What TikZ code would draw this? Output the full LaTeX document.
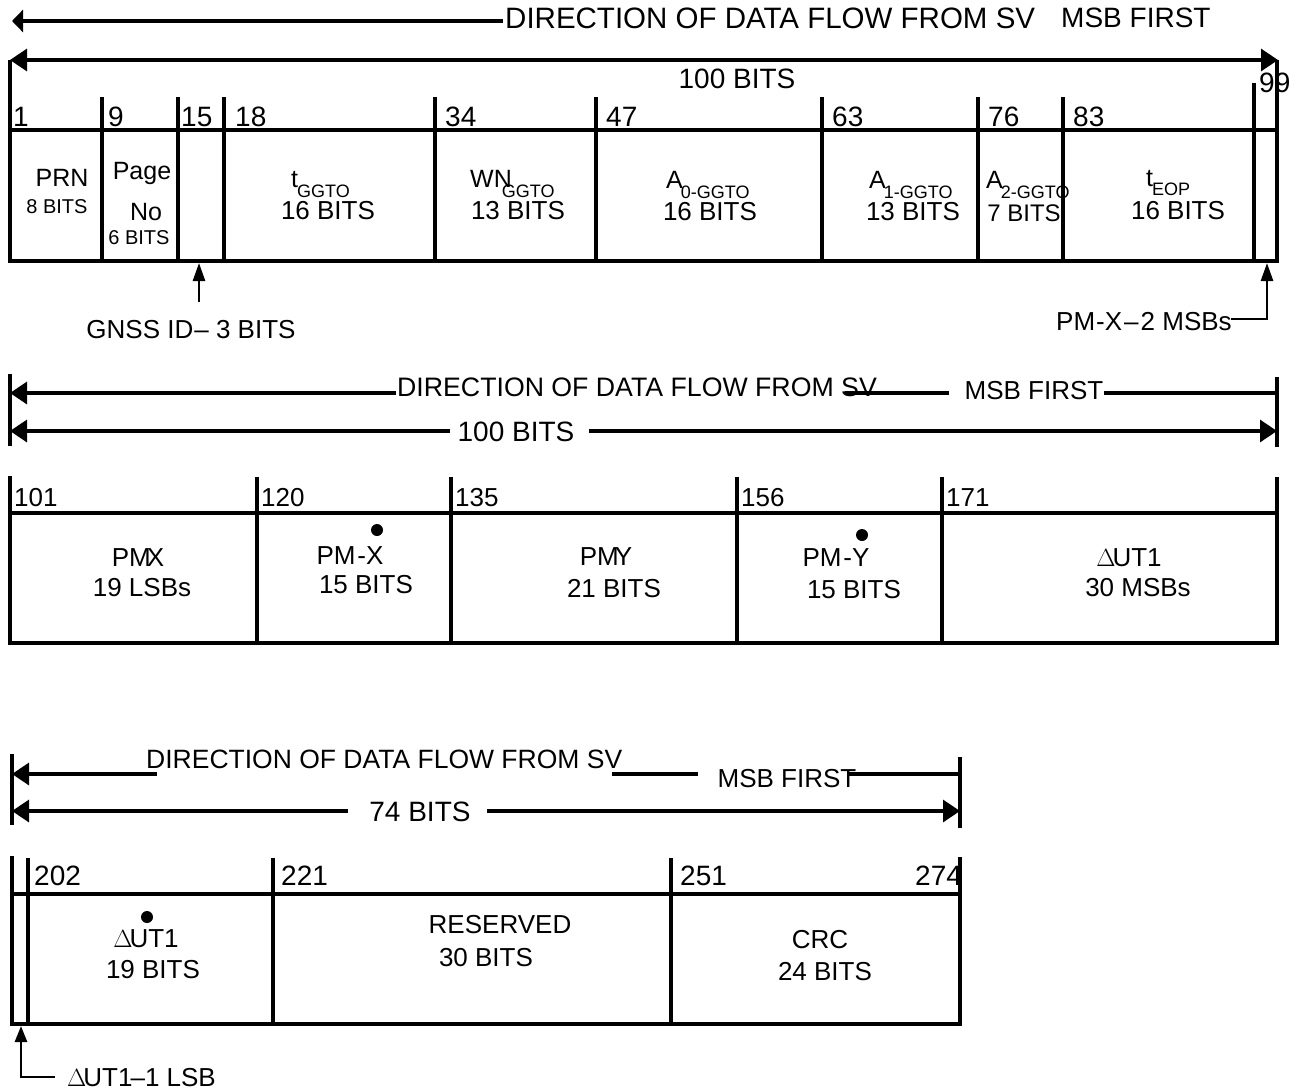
\documentclass[tikz,border=0pt]{standalone}
\usepackage{fontspec}
\setmainfont{Liberation Sans}
\usetikzlibrary{arrows.meta}
\newcommand\fsz[1]{\fontsize{#1}{#1}\selectfont}
\newcommand\dUT{\kern0pt$\Delta$\kern-3pt UT1}
\begin{document}
\begin{tikzpicture}[x=1pt,y=-1pt,
  ln/.style={line width=3.2pt},
  hln/.style={line width=3.2pt,line cap=rect},
  arr/.style={line width=3.2pt,-{Triangle[length=17pt,width=22pt]}},
  darr/.style={line width=3.2pt,{Triangle[length=17pt,width=22pt]}-{Triangle[length=17pt,width=22pt]}},
  thinarr/.style={line width=2.6pt,-{Triangle[length=18pt,width=12pt]}},
  lbl/.style={inner sep=0pt,font=\fsz{26}},
  big/.style={inner sep=0pt,font=\fsz{28}},
  small/.style={inner sep=0pt,font=\fsz{20}},
  num/.style={inner sep=0pt,anchor=base west,font=\fsz{28}},
  numb/.style={inner sep=0pt,anchor=base west,font=\fsz{26}},
  sub/.style={inner sep=0pt,anchor=base west,font=\fsz{25}},
  dotmark/.style={circle,fill=black,inner sep=0pt,minimum size=12pt},
]
\useasboundingbox (0,0) rectangle (1299,1092);

% ================= SECTION 1 =================
\coordinate (a1s) at (503,21); \coordinate (a1e) at (12,21);
\draw[line width=3.2pt,-{Triangle[length=11pt,width=22pt]}] (a1s) -- (a1e);
\node[inner sep=0pt,font=\fsz{29.5},anchor=west] (t1dir) at (505,18) {DIRECTION OF DATA FLOW FROM SV};
\node[big,anchor=west] (t1msb) at (1061,18) {MSB FIRST};

\coordinate (b1l) at (10,60); \coordinate (b1r) at (1278,60);
\draw[darr] (b1l) -- (b1r);
\node[big] (t1bits) at (737,79) {100 BITS};

% table 1 frame
\coordinate (T1a) at (10,60); \coordinate (T1b) at (10,262);
\coordinate (T1c) at (1277,60); \coordinate (T1d) at (1277,262);
\draw[ln] (T1a) -- (T1b);
\draw[ln] (T1c) -- (T1d);
\coordinate (T1e) at (10,130); \coordinate (T1f) at (1277,130);
\coordinate (T1g) at (10,261); \coordinate (T1h) at (1277,261);
\draw[hln] (T1e) -- (T1f);
\draw[hln] (T1g) -- (T1h);
\node[num] (n1) at (13,126) {1};
\foreach \x/\n/\o in {102/9/6,178/15/3,224/18/11,435/34/10,596/47/10,822/63/10,978/76/10,1063/83/10}{
  \draw[ln] (\x,97) -- (\x,262);
  \node[num] (n\n) at (\x+\o,126) {\n};
}
\draw[ln] (1254,83) -- (1254,262);
\node[num] (n99) at (1259,92) {99};

% cell texts row 1
\node[inner sep=0pt,font=\fsz{25}] (prn) at (62,178) {PRN};
\node[small] (prnb) at (57,207) {8 BITS};
\node[inner sep=0pt,font=\fsz{25}] (page) at (142,173) {Page};
\node[inner sep=0pt,font=\fsz{25}] (pageno) at (146,212) {No};
\node[small] (pageb) at (139,238) {6 BITS};

\node[sub] (tg) at (291,187) {t\kern-1pt\raisebox{-10pt}{\fsz{18}GGTO}};
\node[lbl] (tgb) at (328,211) {16 BITS};
\node[sub] (wn) at (470,187) {WN\kern-10pt\raisebox{-10pt}{\fsz{18}GGTO}};
\node[lbl] (wnb) at (518,211) {13 BITS};
\node[sub] (a0) at (666,188) {A\kern-2pt\raisebox{-10pt}{\fsz{18}0-GGTO}};
\node[lbl] (a0b) at (710,212) {16 BITS};
\node[sub] (a1) at (869,188) {A\kern-2pt\raisebox{-10pt}{\fsz{18}1-GGTO}};
\node[lbl] (a1b) at (913,212) {13 BITS};
\node[sub] (a2) at (986,188) {A\kern-2pt\raisebox{-10pt}{\fsz{18}2-GGTO}};
\node[inner sep=0pt,font=\fsz{24}] (a2b) at (1024,213) {7 BITS};
\node[sub] (te) at (1146,186) {t\kern-1pt\raisebox{-9pt}{\fsz{18}EOP}};
\node[lbl] (teb) at (1178,211) {16 BITS};

% GNSS ID arrow
\node[lbl] (gnss) at (191,330) {GNSS ID\kern1pt– 3 BITS};
\coordinate (g1) at (199,302); \coordinate (g2) at (199,263);
\draw[thinarr] (g1) -- (g2);

% PM-X 2 MSBs arrow
\node[lbl,anchor=west] (pmx2) at (1056,322) {PM\kern1pt-X\kern2pt–\kern2pt2 MSBs};
\coordinate (p1) at (1231,319); \coordinate (p2) at (1267,319); \coordinate (p3) at (1267,263);
\draw[thinarr] (p1) -- (p2) -- (p3);

% ================= SECTION 2 =================
\coordinate (s2l1) at (10,374); \coordinate (s2l2) at (10,446);
\draw[ln] (s2l1) -- (s2l2);
\coordinate (s2r1) at (1277,377); \coordinate (s2r2) at (1277,447);
\draw[ln] (s2r1) -- (s2r2);

\coordinate (a2s) at (396,393); \coordinate (a2e) at (10,393);
\draw[arr] (a2s) -- (a2e);
\node[inner sep=0pt,font=\fsz{26.7},anchor=west] (t2dir) at (397,387) {DIRECTION OF DATA FLOW FROM SV};
\coordinate (l2a) at (845,393); \coordinate (l2b) at (949,393);
\draw[ln] (l2a) -- (l2b);
\node[lbl] (t2msb) at (1034,391) {MSB FIRST};
\coordinate (l2c) at (1104,393); \coordinate (l2d) at (1277,393);
\draw[ln] (l2c) -- (l2d);

\coordinate (b2a) at (450,431); \coordinate (b2b) at (10,431);
\draw[arr] (b2a) -- (b2b);
\node[big] (t2bits) at (516,432) {100 BITS};
\coordinate (b2c) at (589,431); \coordinate (b2d) at (1277,431);
\draw[arr] (b2c) -- (b2d);

% table 2
\coordinate (T2a) at (10,476); \coordinate (T2b) at (10,643);
\coordinate (T2c) at (1277,477); \coordinate (T2d) at (1277,643);
\draw[ln] (T2a) -- (T2b);
\draw[ln] (T2c) -- (T2d);
\coordinate (T2e) at (10,513); \coordinate (T2f) at (1277,513);
\coordinate (T2g) at (10,643); \coordinate (T2h) at (1277,643);
\draw[hln] (T2e) -- (T2f);
\draw[hln] (T2g) -- (T2h);
\node[numb] (n101) at (14,506) {101};
\foreach \x/\n in {257/120,451/135,737/156,942/171}{
  \draw[ln] (\x,477) -- (\x,643);
  \node[numb] (n\n) at (\x+4,506) {\n};
}
\node[lbl] (pmx) at (138,558) {PM\kern-4pt X};
\node[lbl] (pmxb) at (142,588) {19 LSBs};
\node[dotmark] (dx) at (377,530) {};
\node[lbl] (pmxd) at (350,556) {PM\kern2pt-X};
\node[lbl] (pmxdb) at (366,585) {15 BITS};
\node[lbl] (pmy) at (606,557) {PM\kern-4pt Y};
\node[lbl] (pmyb) at (614,589) {21 BITS};
\node[dotmark] (dy) at (862,535) {};
\node[lbl] (pmyd) at (836,558) {PM\kern2pt-Y};
\node[lbl] (pmydb) at (854,590) {15 BITS};
\node[lbl] (ut) at (1129,558) {\dUT};
\node[lbl] (utb) at (1138,588) {30 MSBs};

% ================= SECTION 3 =================
\coordinate (s3l1) at (12,754); \coordinate (s3l2) at (12,825);
\draw[ln] (s3l1) -- (s3l2);
\coordinate (s3r1) at (960,757); \coordinate (s3r2) at (960,828);
\draw[ln] (s3r1) -- (s3r2);

\coordinate (a3s) at (157,774); \coordinate (a3e) at (12,774);
\draw[arr] (a3s) -- (a3e);
\node[inner sep=0pt,font=\fsz{26.5},anchor=west] (t3dir) at (146,759) {DIRECTION OF DATA FLOW FROM SV};
\coordinate (l3a) at (612,774); \coordinate (l3b) at (698,774);
\draw[ln] (l3a) -- (l3b);
\node[lbl] (t3msb) at (787,779) {MSB FIRST};
\coordinate (l3c) at (847,774); \coordinate (l3d) at (960,774);
\draw[ln] (l3c) -- (l3d);

\coordinate (b3a) at (348,811); \coordinate (b3b) at (12,811);
\draw[arr] (b3a) -- (b3b);
\node[big] (t3bits) at (420,812) {74 BITS};
\coordinate (b3c) at (487,811); \coordinate (b3d) at (960,811);
\draw[arr] (b3c) -- (b3d);

% table 3
\coordinate (T3a) at (12,856); \coordinate (T3b) at (12,1024);
\coordinate (T3c) at (960,857); \coordinate (T3d) at (960,1024);
\draw[ln] (T3a) -- (T3b);
\draw[ln] (T3c) -- (T3d);
\coordinate (T3e) at (12,894); \coordinate (T3f) at (960,894);
\coordinate (T3g) at (12,1024); \coordinate (T3h) at (960,1024);
\draw[hln] (T3e) -- (T3f);
\draw[hln] (T3g) -- (T3h);
\foreach \x in {28,273,671}{
  \draw[ln] (\x,858) -- (\x,1024);
}
\node[num] (n202) at (34,885) {202};
\node[num] (n221) at (281,885) {221};
\node[num] (n251) at (680,885) {251};
\node[num] (n274) at (915,885) {274};

\node[dotmark] (du) at (147,917) {};
\node[lbl] (ut3) at (146,939) {\dUT};
\node[lbl] (ut3b) at (153,970) {19 BITS};
\node[lbl] (res) at (500,925) {RESERVED};
\node[lbl] (resb) at (486,958) {30 BITS};
\node[lbl] (crc) at (820,940) {CRC};
\node[lbl] (crcb) at (825,972) {24 BITS};

% UT1 1 LSB arrow
\node[lbl,anchor=west] (lsb) at (67,1078) {\dUT\kern-2pt–1 LSB};
\coordinate (u1) at (55,1077); \coordinate (u2) at (21,1077); \coordinate (u3) at (21,1026);
\draw[line width=2.6pt,-{Triangle[length=16pt,width=12pt]}] (u1) -- (u2) -- (u3);
\end{tikzpicture}
\end{document}
